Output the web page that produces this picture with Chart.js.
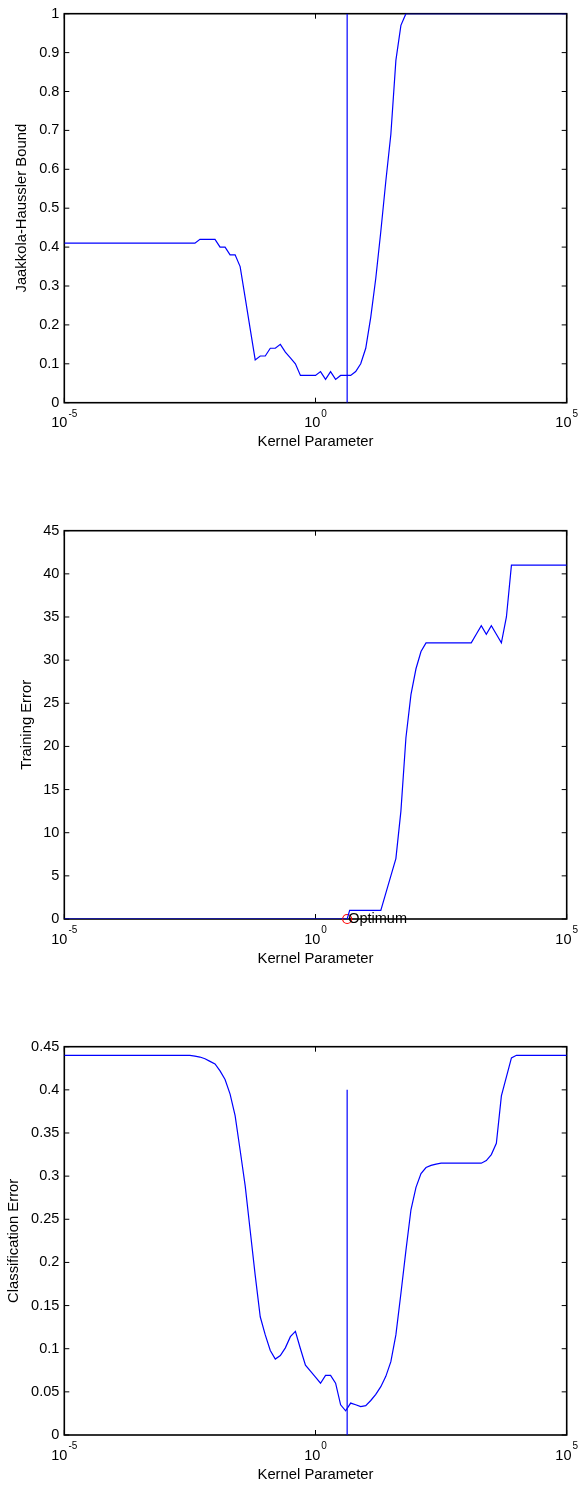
<!DOCTYPE html>
<html>
<head>
<meta charset="utf-8">
<title>Kernel parameter sweep</title>
<script src="https://cdn.jsdelivr.net/npm/chart.js@4.4.1/dist/chart.umd.min.js"></script>
<style>
  html, body { margin: 0; padding: 0; background: #fff; }
  body { position: relative; width: 578px; height: 1485px; overflow: hidden; }
  canvas { position: absolute; left: 0; }
</style>
</head>
<body>
<canvas id="bound-chart" width="578" height="452" style="top:0px"></canvas>
<canvas id="train-chart" width="578" height="452" style="top:517px"></canvas>
<canvas id="class-chart" width="578" height="452" style="top:1033px"></canvas>
<script>
// Kernel parameter values are kept as log10 exponents, x axes are log scaled
const X_TICK_EXP = [-5, 0, 5];
const OPT_EXP = 0.63;
const OPT_LABEL = 'Optimum';

// Jaakkola-Haussler bound
const boundExp = [-5, -2.4, -2.3, -2.0, -1.9, -1.8, -1.7, -1.6, -1.5, -1.4, -1.3, -1.2, -1.1, -1.0,
    -0.9, -0.8, -0.7, -0.6, -0.5, -0.4, -0.3, 0.0, 0.1, 0.2, 0.3, 0.4, 0.5,
    0.7, 0.8, 0.9, 1.0, 1.1, 1.2, 1.3, 1.4, 1.5, 1.6, 1.7, 1.8, 5];
const boundVals = [0.41, 0.41, 0.42, 0.42, 0.40, 0.40, 0.38, 0.38, 0.35, 0.27, 0.19, 0.11, 0.12, 0.12,
    0.14, 0.14, 0.15, 0.13, 0.115, 0.10, 0.07, 0.07, 0.08, 0.06, 0.08, 0.06, 0.07,
    0.07, 0.08, 0.10, 0.14, 0.22, 0.32, 0.44, 0.57, 0.69, 0.88, 0.97, 1.0, 1.0];
const boundMarker = [0, 1];

// Training error
const trainExp = [-5, 0.63, 0.68, 1.3, 1.4, 1.5, 1.6, 1.7, 1.8, 1.9, 2.0, 2.1, 2.2,
    3.1, 3.2, 3.3, 3.4, 3.5, 3.6, 3.7, 3.8, 3.9, 5];
const trainVals = [0, 0, 1, 1, 3, 5, 7, 12.5, 21, 26, 29, 31, 32,
    32, 33, 34, 33, 34, 33, 32, 35, 41, 41];

// Classification error
const classExp = [-5, -2.5, -2.4, -2.3, -2.2, -2.1, -2.0, -1.9, -1.8, -1.7, -1.6, -1.5, -1.4, -1.3,
    -1.2, -1.1, -1.0, -0.9, -0.8, -0.7, -0.6, -0.5, -0.4, -0.3, -0.2, -0.1,
    0.0, 0.1, 0.2, 0.3, 0.4, 0.5, 0.6, 0.7, 0.8, 0.9, 1.0, 1.1, 1.2, 1.3, 1.4, 1.5,
    1.6, 1.7, 1.8, 1.9, 2.0, 2.1, 2.2, 2.3, 2.4, 2.5, 3.3, 3.4, 3.5, 3.6, 3.7, 3.8, 3.9, 4.0, 5];
const classVals = [0.44, 0.44, 0.439, 0.438, 0.436, 0.433, 0.430, 0.422, 0.412, 0.395, 0.370, 0.330, 0.289, 0.237,
    0.185, 0.137, 0.116, 0.098, 0.088, 0.092, 0.101, 0.114, 0.120, 0.100, 0.081, 0.074,
    0.067, 0.060, 0.069, 0.069, 0.060, 0.035, 0.028, 0.037, 0.035, 0.033, 0.034, 0.040, 0.047, 0.056, 0.068, 0.085,
    0.116, 0.164, 0.214, 0.261, 0.287, 0.303, 0.310, 0.3125, 0.314, 0.315, 0.315, 0.318, 0.325, 0.338, 0.393, 0.415, 0.437, 0.44, 0.44];
const classMarker = [0, 0.4];

const FONT = "'Liberation Sans', Arial, Helvetica, sans-serif";
const BLUE = '#0000ff';
const TICK_LEN = 5;
const PLOT_LEFT = 64.3;
const PLOT_RIGHT = 566.7;
const CANVAS_W = 578;
const CANVAS_H = 452;

function points(exps, vals) {
    return exps.map((e, i) => ({ x: Math.pow(10, e), y: vals[i] }));
}

function markerLine(range) {
    return {
        data: range.map(v => ({ x: Math.pow(10, OPT_EXP), y: v })),
        borderColor: BLUE,
        borderWidth: 1.2,
        pointRadius: 0
    };
}

// box, inward ticks and 10^n labels in the old matlab style
const boxAxes = {
    id: 'boxAxes',
    beforeDatasetsDraw(chart) {
        const { ctx, chartArea: a, scales: { x, y } } = chart;
        ctx.save();
        ctx.strokeStyle = '#000';
        ctx.lineWidth = 1;
        ctx.beginPath();
        y.ticks.forEach(t => {
            const py = y.getPixelForValue(t.value);
            ctx.moveTo(a.left, py);
            ctx.lineTo(a.left + TICK_LEN, py);
            ctx.moveTo(a.right, py);
            ctx.lineTo(a.right - TICK_LEN, py);
        });
        X_TICK_EXP.forEach(e => {
            const px = x.getPixelForValue(Math.pow(10, e));
            ctx.moveTo(px, a.bottom);
            ctx.lineTo(px, a.bottom - TICK_LEN);
            ctx.moveTo(px, a.top);
            ctx.lineTo(px, a.top + TICK_LEN);
        });
        ctx.stroke();

        ctx.lineWidth = 1.6;
        ctx.strokeRect(a.left, a.top, a.right - a.left, a.bottom - a.top);

        ctx.fillStyle = '#000';
        ctx.textBaseline = 'alphabetic';
        ctx.textAlign = 'left';
        X_TICK_EXP.forEach(e => {
            const px = x.getPixelForValue(Math.pow(10, e));
            const exp = String(e);
            ctx.font = '14.5px ' + FONT;
            const wBase = ctx.measureText('10').width;
            ctx.font = '10px ' + FONT;
            const wExp = ctx.measureText(exp).width;
            const start = px - (wBase + 1 + wExp) / 2;
            ctx.font = '14.5px ' + FONT;
            ctx.fillText('10', start, a.bottom + 24.6);
            ctx.font = '10px ' + FONT;
            ctx.fillText(exp, start + wBase + 1, a.bottom + 14);
        });
        ctx.restore();
    },
    afterDatasetsDraw(chart, args, opts) {
        if (!opts.label) return;
        const { ctx, scales: { x, y } } = chart;
        ctx.save();
        ctx.fillStyle = '#000';
        ctx.font = '14.5px ' + FONT;
        ctx.textAlign = 'left';
        ctx.textBaseline = 'middle';
        ctx.fillText(opts.label, x.getPixelForValue(Math.pow(10, OPT_EXP)) + 1, y.getPixelForValue(0));
        ctx.restore();
    }
};

function makeChart(id, cfg) {
    const xHeight = CANVAS_H - cfg.top - cfg.height;
    return new Chart(document.getElementById(id), {
        type: 'line',
        data: { datasets: cfg.datasets },
        options: {
            responsive: false,
            devicePixelRatio: 1,
            animation: false,
            events: [],
            layout: {
                padding: { left: cfg.titleLeft, top: cfg.top, right: CANVAS_W - PLOT_RIGHT, bottom: 0 }
            },
            elements: {
                line: { tension: 0, fill: false }
            },
            plugins: {
                legend: { display: false },
                tooltip: { enabled: false },
                boxAxes: { label: cfg.label || null }
            },
            scales: {
                x: {
                    type: 'logarithmic',
                    position: 'bottom',
                    min: 1e-5,
                    max: 1e5,
                    grid: { display: false, drawTicks: false },
                    border: { display: false },
                    ticks: { display: false },
                    title: {
                        display: true,
                        text: 'Kernel Parameter',
                        color: '#000',
                        font: { family: FONT, size: 14.8 },
                        padding: { top: 0, bottom: 1 }
                    },
                    afterFit: function(scale) {
                        scale.height = xHeight;
                    }
                },
                y: {
                    type: 'linear',
                    min: 0,
                    max: cfg.yMax,
                    grid: { display: false, drawTicks: false },
                    border: { display: false },
                    ticks: {
                        stepSize: cfg.yStep,
                        color: '#000',
                        padding: 5,
                        font: { family: FONT, size: 14.5 },
                        callback: function(value) {
                            // plain shortest form: 1, 0.4, 0.05
                            return String(parseFloat(Number(value).toFixed(4)));
                        }
                    },
                    title: {
                        display: true,
                        text: cfg.yTitle,
                        color: '#000',
                        font: { family: FONT, size: 14.8 },
                        padding: { top: 0, bottom: 0 }
                    },
                    afterFit: function(scale) {
                        scale.width = PLOT_LEFT - cfg.titleLeft;
                    }
                }
            }
        },
        plugins: [boxAxes]
    });
}

document.addEventListener('DOMContentLoaded', function() {
    // Jaakkola-Haussler bound with the chosen parameter marked
    makeChart('bound-chart', {
        top: 12.7,
        height: 390,
        titleLeft: 13.1,
        yMax: 1,
        yStep: 0.1,
        yTitle: 'Jaakkola-Haussler Bound',
        datasets: [
            {
                data: points(boundExp, boundVals),
                borderColor: BLUE,
                borderWidth: 1.2,
                pointRadius: 0
            },
            markerLine(boundMarker)
        ]
    });

    // Training error, optimum circled and labelled
    makeChart('train-chart', {
        top: 13,
        height: 389,
        titleLeft: 18.1,
        yMax: 45,
        yStep: 5,
        yTitle: 'Training Error',
        label: OPT_LABEL,
        datasets: [
            {
                data: points(trainExp, trainVals),
                borderColor: BLUE,
                borderWidth: 1.2,
                pointRadius: 0
            },
            {
                data: [{ x: Math.pow(10, OPT_EXP), y: 0 }],
                showLine: false,
                clip: false,
                pointStyle: 'circle',
                pointRadius: 4.5,
                pointBorderWidth: 1.2,
                pointBorderColor: '#ff0000',
                pointBackgroundColor: 'rgba(0,0,0,0)'
            }
        ]
    });

    // Classification error
    makeChart('class-chart', {
        top: 13.3,
        height: 388.7,
        titleLeft: 5.3,
        yMax: 0.45,
        yStep: 0.05,
        yTitle: 'Classification Error',
        datasets: [
            {
                data: points(classExp, classVals),
                borderColor: BLUE,
                borderWidth: 1.2,
                pointRadius: 0
            },
            markerLine(classMarker)
        ]
    });
});
</script>
</body>
</html>
